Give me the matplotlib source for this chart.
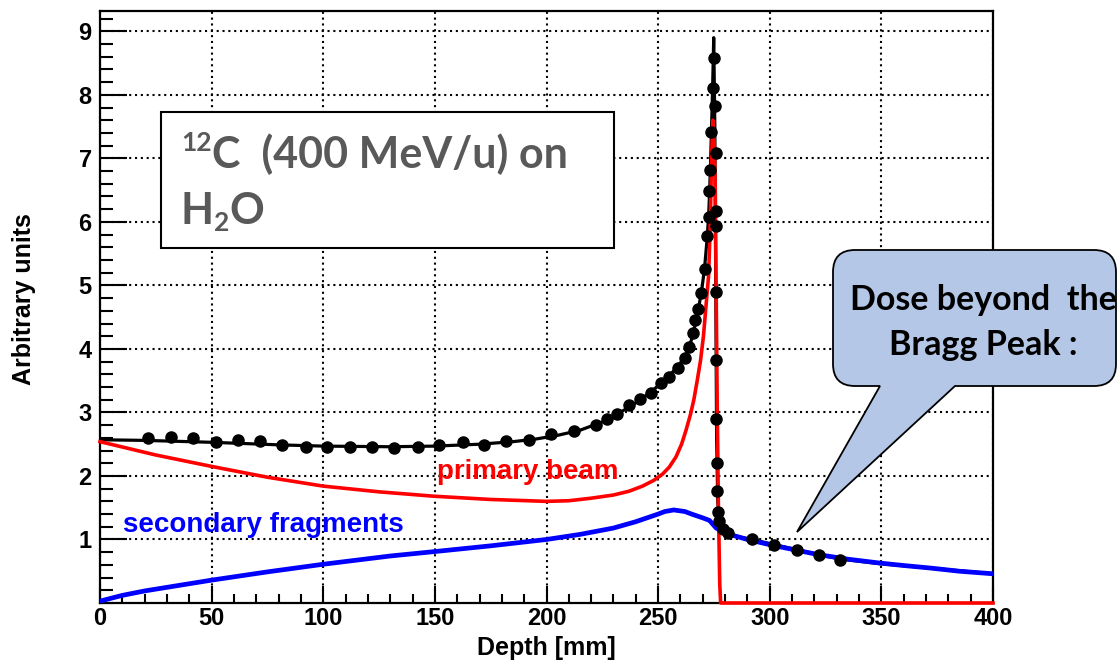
import matplotlib
matplotlib.use("Agg")
import matplotlib.pyplot as plt
from matplotlib.ticker import MultipleLocator
from matplotlib.patches import Rectangle, PathPatch
from matplotlib.path import Path

# -----------------------------
# data
# -----------------------------
total_x = [0, 20, 50, 80, 100, 130, 150, 170, 185, 195, 205, 215, 225, 237, 242, 247, 251,
           255, 259, 262, 264, 265.6, 267, 268.3, 269.5, 270.8, 271.9, 272.6, 273.1, 273.5,
           273.9, 274.4, 274.9, 275.4, 275.8, 276.2, 276.7, 277.3, 278.5, 281, 285, 292,
           302, 312, 322, 332, 349, 372, 400]
total_y = [2.57, 2.56, 2.53, 2.49, 2.47, 2.46, 2.47, 2.50, 2.54, 2.58, 2.64, 2.72, 2.85,
           3.08, 3.20, 3.33, 3.45, 3.58, 3.73, 3.88, 4.03, 4.23, 4.45, 4.68, 4.92, 5.27,
           5.72, 6.08, 6.50, 6.95, 7.45, 8.10, 8.90, 7.5, 5.0, 2.6, 1.6, 1.3, 1.18, 1.10,
           1.05, 1.00, 0.92, 0.84, 0.76, 0.69, 0.62, 0.55, 0.46]

primary_x = [0, 25, 50, 75, 100, 125, 150, 175, 200, 210, 220, 230, 237, 243, 248, 252, 255,
             258, 260.5, 262.5, 264.5, 266, 267.5, 269, 270.3, 271.5, 272.6, 273.3, 273.9,
             274.5, 275.2, 275.6, 276.0, 276.5, 277.0, 277.6, 278, 400]
primary_y = [2.54, 2.33, 2.15, 1.98, 1.84, 1.75, 1.68, 1.63, 1.60, 1.61, 1.65, 1.70, 1.76,
             1.84, 1.93, 2.03, 2.14, 2.30, 2.50, 2.72, 2.97, 3.20, 3.50, 3.82, 4.20, 4.70,
             5.15, 5.90, 6.90, 7.60, 7.20, 6.50, 4.90, 3.00, 1.50, 0.30, 0.0, 0.0]

secondary_x = [0, 10, 20, 50, 75, 100, 130, 150, 175, 200, 215, 230, 240, 245, 250, 253,
               257, 262, 265, 270, 273, 276, 280, 283, 290, 301, 322, 335, 349, 360, 372,
               385, 400]
secondary_y = [0.03, 0.12, 0.19, 0.36, 0.49, 0.61, 0.74, 0.81, 0.90, 1.00, 1.08, 1.18, 1.28,
               1.34, 1.40, 1.44, 1.465, 1.44, 1.40, 1.34, 1.30, 1.18, 1.10, 1.07, 1.00, 0.91,
               0.76, 0.69, 0.63, 0.59, 0.55, 0.50, 0.46]

meas_x = [21.6, 31.6, 41.7, 51.8, 61.8, 71.8, 81.6, 92.1, 101.8, 112.0, 121.8,
          131.8, 142.3, 152.0, 162.4, 172.1, 181.8, 192.2, 201.9, 212.3, 222.0, 227.2, 231.7, 236.9,
          242.0, 246.9, 251.3, 254.9, 258.9, 262.1, 263.8, 265.6, 266.5, 267.9, 269.3,
          270.8, 271.9, 272.6, 273.0, 273.3, 273.8, 274.4, 274.9,
          275.3, 275.9, 275.9, 275.9, 275.9, 275.9, 276.0, 276.2, 276.5, 277.0, 277.4, 279.1, 281.3,
          292.2, 301.9, 312.3, 322.0, 331.6]
meas_y = [2.59, 2.61, 2.59, 2.54, 2.57, 2.55, 2.48, 2.45, 2.45, 2.45, 2.46,
          2.44, 2.46, 2.48, 2.53, 2.48, 2.55, 2.57, 2.66, 2.71, 2.81, 2.89, 2.98, 3.11,
          3.21, 3.31, 3.47, 3.56, 3.70, 3.86, 4.03, 4.25, 4.46, 4.63, 4.88,
          5.26, 5.77, 6.07, 6.48, 6.82, 7.41, 8.10, 8.58,
          7.82, 7.09, 6.17, 5.93, 4.89, 3.83, 2.90, 2.21, 1.77, 1.43, 1.29, 1.16, 1.10,
          1.00, 0.92, 0.84, 0.76, 0.68]

W, H = 1118, 661
BOLD = dict(family="Liberation Sans", fontweight="bold")
CALI = dict(family="Lato", fontweight="bold")


def fx(px):
    return px / W


def fy(py):
    return 1 - py / H


fig = plt.figure(figsize=(W / 100, H / 100), dpi=100)
ax = fig.add_axes([fx(100), fy(603), fx(993) - fx(100), fy(11) - fy(603)])

ax.plot(total_x, total_y, color="black", lw=2.3, zorder=3)
ax.plot(primary_x, primary_y, color="#ff0000", lw=2.6, zorder=4, clip_on=False)
ax.plot(secondary_x, secondary_y, color="#0000ff", lw=3.4, zorder=4)
ax.plot(meas_x, meas_y, "o", color="black", ms=8, zorder=6)

ax.set_xlim(0, 400)
ax.set_ylim(0, 9.32)
ax.xaxis.set_major_locator(MultipleLocator(50))
ax.xaxis.set_minor_locator(MultipleLocator(10))
ax.set_yticks(range(1, 10))
ax.yaxis.set_minor_locator(MultipleLocator(0.2))

ax.grid(True, which="major", color="black", lw=1.5, ls=(0, (1, 1.8)))
ax.tick_params(axis="both", which="both", direction="in", colors="black", width=1.5,
               top=False, right=False)
ax.tick_params(axis="y", which="major", length=19.4, pad=6)
ax.tick_params(axis="y", which="minor", length=9.7)
ax.tick_params(axis="x", which="major", length=12.6, pad=3)
ax.tick_params(axis="x", which="minor", length=6.3)
for lab in ax.get_xticklabels() + ax.get_yticklabels():
    lab.set_fontsize(17)
    lab.set_fontfamily("Liberation Sans")
    lab.set_fontweight("bold")
for sp in ax.spines.values():
    sp.set_linewidth(1.6)

ax.set_xlabel("Depth [mm]", fontsize=18, labelpad=4, **BOLD)
fig.text(fx(24), fy(299), "Arbitrary units", rotation=90, ha="center", va="center",
         fontsize=18, **BOLD)

ax.text(151, 1.95, "primary beam", color="#ff0000", fontsize=20, zorder=7, **BOLD)
ax.text(10.3, 1.12, "secondary fragments", color="#0000ff", fontsize=20, zorder=7, **BOLD)

# title box
ax.add_patch(Rectangle((27.3, 5.59), 202.9, 2.14, facecolor="white", edgecolor="black",
                       lw=1.5, zorder=5))
renderer = fig.canvas.get_renderer()
gray = "#595959"


def run(x_px, base_py, pieces, color):
    for txt, size, dy in pieces:
        t = fig.text(fx(x_px), fy(base_py + dy), txt, fontsize=size, color=color,
                     ha="left", va="baseline", zorder=8, **CALI)
        x_px = t.get_window_extent(renderer=renderer).x1


run(181, 168, [("12", 19, -17), ("C  (400 MeV/u) on", 31, 0)], gray)
run(181, 224, [("H", 31, 0), ("2", 19, 7), ("O", 31, 0)], gray)

# callout bubble
L, R, T, B, r = 833, 1116, 250, 386, 22
verts = [(L + r, T), (R - r, T), (R, T), (R, T + r), (R, B - r), (R, B), (R - r, B),
         (955, B), (797, 532), (880, B), (L + r, B), (L, B), (L, B - r), (L, T + r),
         (L, T), (L + r, T), (L + r, T)]
codes = [Path.MOVETO, Path.LINETO, Path.CURVE3, Path.CURVE3, Path.LINETO, Path.CURVE3,
         Path.CURVE3, Path.LINETO, Path.LINETO, Path.LINETO, Path.LINETO, Path.CURVE3,
         Path.CURVE3, Path.LINETO, Path.CURVE3, Path.CURVE3, Path.CLOSEPOLY]
bubble = Path([(fx(a), fy(b)) for a, b in verts], codes)
fig.patches.append(PathPatch(bubble, facecolor="#b4c7e7", edgecolor="black", lw=1.3,
                             transform=fig.transFigure, figure=fig, zorder=5))
fig.text(fx(983), fy(310), "Dose beyond  the", ha="center", va="baseline", fontsize=24.5,
         color="black", zorder=8, **CALI)
fig.text(fx(983), fy(355), "Bragg Peak :", ha="center", va="baseline", fontsize=24.5,
         color="black", zorder=8, **CALI)

fig.savefig("out.png", dpi=100)
print("Saved: out.png")
